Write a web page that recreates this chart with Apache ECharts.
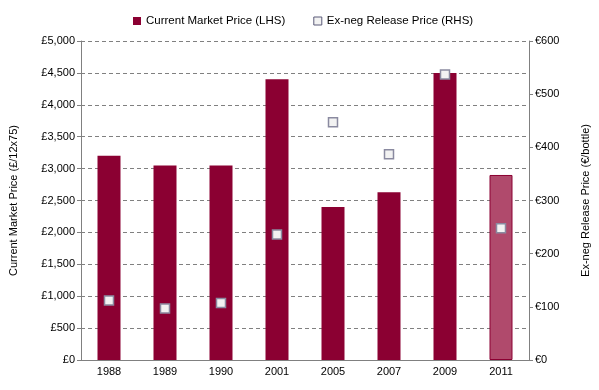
<!DOCTYPE html>
<html><head><meta charset="utf-8">
<script src="https://cdn.jsdelivr.net/npm/echarts@6/dist/echarts.min.js"></script>
<style>html,body{margin:0;padding:0;background:#fff}#c{width:599px;height:390px}</style>
</head><body><div id="c"></div>
<script>
const categories = ['1988','1989','1990','2001','2005','2007','2009','2011'];
const marketPrice = [3200, 3050, 3050, 4400, 2400, 2630, 4500, 2900];
const releasePrice = [112, 97, 107, 236, 447, 387, 537, 248];
const leftTicks = [0, 5000, 500];
const rightTicks = [0, 600, 100];

const font = 'Liberation Sans, Arial, sans-serif';
const chart = echarts.init(document.getElementById('c'));
const barData = marketPrice.map((v, i) => i === categories.length - 1
  ? {value: v, itemStyle: {color: '#B04A6C', borderColor: '#8B0032', borderWidth: 1}}
  : v);
chart.setOption({
  animation: false,
  textStyle: {fontFamily: font},
  legend: {
    top: 10, left: 128, itemGap: 28, itemWidth: 8, itemHeight: 8,
    textStyle: {fontFamily: font, fontSize: 11.5, color: '#000'},
    data: [
      {name: 'Current Market Price (LHS)', icon: 'rect'},
      {name: 'Ex-neg Release Price (RHS)', icon: 'rect', itemStyle: {color: '#F2F2F2', borderColor: '#5A5A78', borderWidth: 1}}
    ]
  },
  grid: {left: 77, right: 68, top: 41, bottom: 30},
  xAxis: {
    type: 'category', data: categories,
    axisLine: {lineStyle: {color: '#808080'}},
    axisTick: {length: 4, lineStyle: {color: '#808080'}},
    axisLabel: {color: '#000', fontSize: 11, fontFamily: font, margin: 6}
  },
  yAxis: [{
    type: 'value', min: leftTicks[0], max: leftTicks[1], interval: leftTicks[2],
    name: 'Current Market Price (£/12x75)', nameLocation: 'middle', nameGap: 62, nameRotate: 90,
    nameTextStyle: {fontSize: 11, color: '#000', fontFamily: font},
    axisLine: {show: true, lineStyle: {color: '#808080'}},
    axisTick: {show: true, length: 4, lineStyle: {color: '#808080'}},
    axisLabel: {color: '#000', fontSize: 11, fontFamily: font, margin: 6,
      formatter: v => '£' + v.toLocaleString('en-US')},
    splitLine: {lineStyle: {color: '#808080', type: [4, 3]}}
  }, {
    type: 'value', min: rightTicks[0], max: rightTicks[1], interval: rightTicks[2],
    name: 'Ex-neg Release Price (€/bottle)', nameLocation: 'middle', nameGap: 51, nameRotate: 90,
    nameTextStyle: {fontSize: 11, color: '#000', fontFamily: font},
    axisLine: {show: true, lineStyle: {color: '#808080'}},
    axisTick: {show: true, length: 4, lineStyle: {color: '#808080'}},
    axisLabel: {color: '#000', fontSize: 11, fontFamily: font, margin: 6,
      formatter: v => '€' + v},
    splitLine: {show: false}
  }],
  series: [{
    name: 'Current Market Price (LHS)', type: 'bar', data: barData,
    barWidth: 23, itemStyle: {color: '#8B0032'}
  }, {
    name: 'Ex-neg Release Price (RHS)', type: 'scatter', yAxisIndex: 1, data: releasePrice,
    symbol: 'rect', symbolSize: 9,
    itemStyle: {color: '#F2F2F2', borderColor: '#8A8AA0', borderWidth: 1.5, opacity: 1}
  }]
});
</script></body></html>
